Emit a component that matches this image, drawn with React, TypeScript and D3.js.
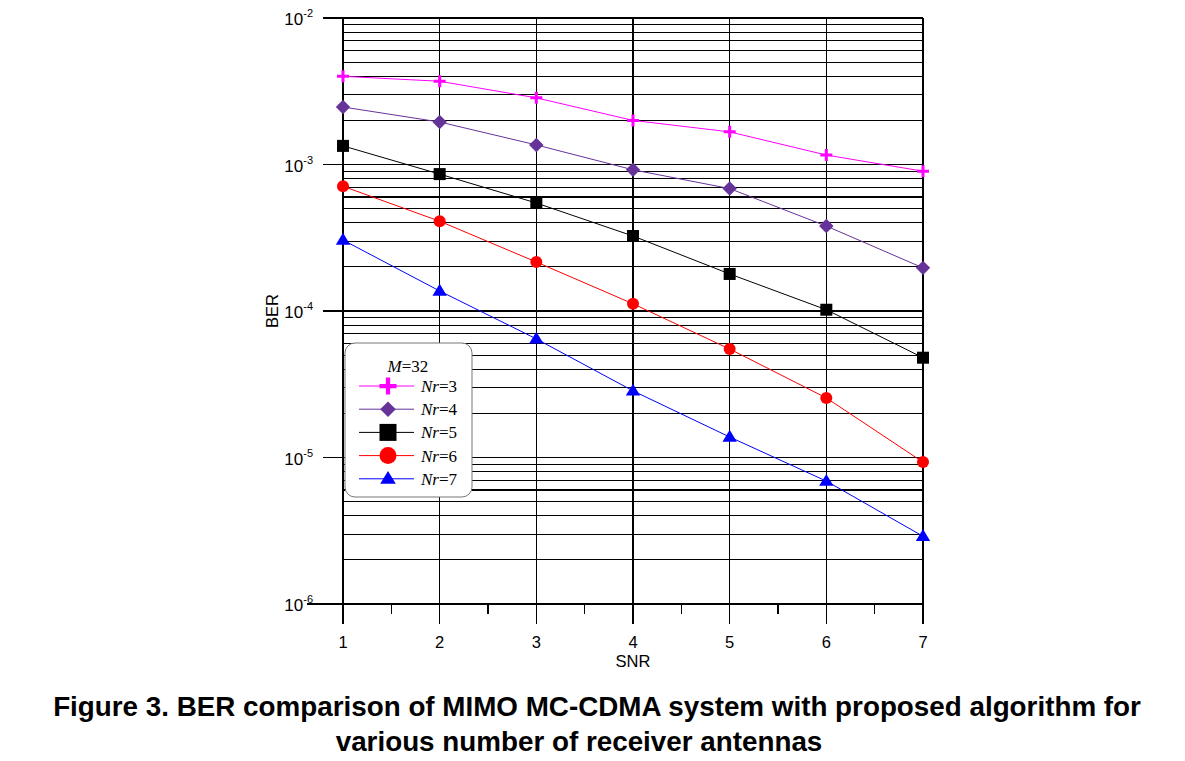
import React, { useRef, useEffect } from 'react';
import * as d3 from 'd3';

const snr = [1, 2, 3, 4, 5, 6, 7];
const nr3 = [4.0e-3, 3.7e-3, 2.85e-3, 2.0e-3, 1.67e-3, 1.16e-3, 9.0e-4];
const nr4 = [2.47e-3, 1.95e-3, 1.36e-3, 9.2e-4, 6.85e-4, 3.8e-4, 1.97e-4];
const nr5 = [1.34e-3, 8.6e-4, 5.46e-4, 3.25e-4, 1.79e-4, 1.02e-4, 4.8e-5];
const nr6 = [7.1e-4, 4.1e-4, 2.16e-4, 1.12e-4, 5.5e-5, 2.55e-5, 9.3e-6];
const nr7 = [3.05e-4, 1.37e-4, 6.45e-5, 2.85e-5, 1.38e-5, 6.9e-6, 2.9e-6];
const decades = [-2, -3, -4, -5, -6];
const seriesNames = ['3', '4', '5', '6', '7'];

type Marker = 'plus' | 'diamond' | 'square' | 'circle' | 'triangle';

const series: { name: string; values: number[]; color: string; marker: Marker }[] = [
  { name: seriesNames[0], values: nr3, color: '#ff00ff', marker: 'plus' },
  { name: seriesNames[1], values: nr4, color: '#663399', marker: 'diamond' },
  { name: seriesNames[2], values: nr5, color: '#000000', marker: 'square' },
  { name: seriesNames[3], values: nr6, color: '#ff0000', marker: 'circle' },
  { name: seriesNames[4], values: nr7, color: '#0000ff', marker: 'triangle' },
];

const sans = 'Liberation Sans, Arial, sans-serif';
const serif = 'Liberation Serif, Times New Roman, serif';

const ChartFigure: React.FC = () => {
  const svgRef = useRef<SVGSVGElement | null>(null);
  const width = 1185;
  const height = 761;

  useEffect(() => {
    if (!svgRef.current) return;
    const svg = d3.select(svgRef.current);
    svg.selectAll('*').remove();

    const x = d3.scaleLinear().domain([1, 7]).range([343, 923]);
    const y = d3.scaleLog().domain([1e-6, 1e-2]).range([604, 18]);
    const bottom = 604;

    const grid = svg.append('g').attr('stroke', '#000').attr('stroke-width', 1.2).attr('shape-rendering', 'crispEdges');

    // minor log gridlines
    for (let e = -6; e < -2; e++) {
      for (let m = 2; m <= 9; m++) {
        const v = m * Math.pow(10, e);
        grid.append('line')
          .attr('x1', x(1)).attr('x2', x(7))
          .attr('y1', y(v)).attr('y2', y(v));
      }
    }
    // decade lines
    decades.forEach(e => {
      grid.append('line')
        .attr('x1', e === -6 ? 307 : 323).attr('x2', x(7))
        .attr('y1', y(Math.pow(10, e))).attr('y2', y(Math.pow(10, e)));
    });
    // vertical gridlines + ticks
    snr.forEach(s => {
      grid.append('line')
        .attr('x1', x(s)).attr('x2', x(s))
        .attr('y1', y(1e-2)).attr('y2', bottom + 20);
    });
    d3.range(1.5, 7, 1).forEach(s => {
      grid.append('line')
        .attr('x1', x(s)).attr('x2', x(s))
        .attr('y1', bottom).attr('y2', bottom + 10);
    });

    // y labels
    decades.forEach(e => {
      const t = svg.append('text')
        .attr('x', 313).attr('y', y(Math.pow(10, e)) + 7)
        .attr('text-anchor', 'end')
        .attr('font-family', sans)
        .attr('font-size', 17);
      t.append('tspan').text('10');
      t.append('tspan').attr('dy', -8).attr('font-size', 11).text(`${e}`);
    });

    // x labels
    svg.append('g').selectAll('text').data(snr).join('text')
      .attr('x', d => x(d)).attr('y', 648)
      .attr('text-anchor', 'middle')
      .attr('font-family', sans)
      .attr('font-size', 16.5)
      .text(d => d);

    svg.append('text')
      .attr('x', x(4)).attr('y', 667)
      .attr('text-anchor', 'middle')
      .attr('font-family', sans)
      .attr('font-size', 16.5)
      .text('SNR');

    svg.append('text')
      .attr('transform', `translate(278,${y(1e-4)}) rotate(-90)`)
      .attr('text-anchor', 'middle')
      .attr('font-family', sans)
      .attr('font-size', 16.5)
      .text('BER');

    const drawMarker = (g: d3.Selection<SVGGElement, unknown, null, undefined>, m: Marker, color: string, cx: number, cy: number, s: number) => {
      if (m === 'plus') {
        g.append('path')
          .attr('d', `M${cx - s / 2},${cy}H${cx + s / 2}M${cx},${cy - s / 2}V${cy + s / 2}`)
          .attr('stroke', color).attr('stroke-width', s / 4).attr('fill', 'none');
      } else if (m === 'diamond') {
        const r = s * 0.6;
        g.append('path')
          .attr('d', `M${cx},${cy - r}L${cx + r},${cy}L${cx},${cy + r}L${cx - r},${cy}Z`)
          .attr('fill', color);
      } else if (m === 'square') {
        g.append('rect')
          .attr('x', cx - s / 2).attr('y', cy - s / 2).attr('width', s).attr('height', s)
          .attr('fill', color);
      } else if (m === 'circle') {
        g.append('circle').attr('cx', cx).attr('cy', cy).attr('r', s / 2).attr('fill', color);
      } else {
        const r = s * 0.6;
        g.append('path')
          .attr('d', `M${cx},${cy - r}L${cx + r},${cy + r * 0.65}L${cx - r},${cy + r * 0.65}Z`)
          .attr('fill', color);
      }
    };

    const line = d3.line<number>()
      .x((_, i) => x(snr[i]))
      .y(d => y(d));

    series.forEach(s => {
      const g = svg.append('g');
      g.append('path')
        .attr('d', line(s.values))
        .attr('fill', 'none')
        .attr('stroke', s.color)
        .attr('stroke-width', 1);
      s.values.forEach((v, i) => drawMarker(g, s.marker, s.color, x(snr[i]), y(v), 12));
    });

    // legend
    const lg = svg.append('g');
    lg.append('rect')
      .attr('x', 345).attr('y', 343).attr('width', 127).attr('height', 154)
      .attr('rx', 10).attr('ry', 10)
      .attr('fill', '#fff').attr('stroke', '#777').attr('stroke-width', 1);
    const mt = lg.append('text')
      .attr('x', 408).attr('y', 372)
      .attr('text-anchor', 'middle')
      .attr('font-family', serif)
      .attr('font-size', 17);
    mt.append('tspan').attr('font-style', 'italic').text('M');
    mt.append('tspan').text('=32');

    series.forEach((s, i) => {
      const cy = 386 + i * 23.2;
      lg.append('line')
        .attr('x1', 359).attr('x2', 414).attr('y1', cy).attr('y2', cy)
        .attr('stroke', s.color).attr('stroke-width', 1);
      drawMarker(lg, s.marker, s.color, 388, cy, s.marker === 'diamond' || s.marker === 'triangle' ? 13 : 17);
      const t = lg.append('text')
        .attr('x', 421).attr('y', cy + 6)
        .attr('font-family', serif)
        .attr('font-size', 17);
      t.append('tspan').attr('font-style', 'italic').text('Nr');
      t.append('tspan').text(`=${s.name}`);
    });

    // caption
    const cap = ['Figure 3. BER comparison of MIMO MC-CDMA system with proposed algorithm for',
      'various number of receiver antennas'];
    const capX = [597, 579];
    cap.forEach((c, i) => {
      svg.append('text')
        .attr('x', capX[i]).attr('y', 716 + i * 35)
        .attr('text-anchor', 'middle')
        .attr('font-family', sans)
        .attr('font-weight', 'bold')
        .attr('font-size', 27.8)
        .text(c);
    });
  }, []);

  return <svg ref={svgRef} width={width} height={height} style={{ display: 'block' }}></svg>;
};

export default function App() {
  return (
    <div style={{ margin: -8 }}>
      <ChartFigure />
    </div>
  );
}
